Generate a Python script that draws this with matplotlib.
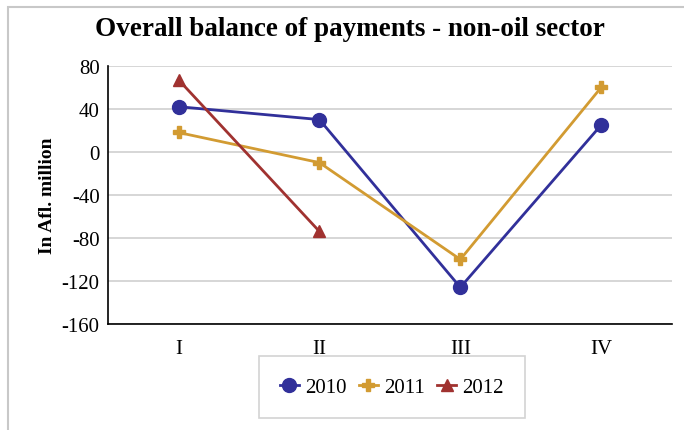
import numpy as np
import matplotlib.pyplot as plt
from matplotlib.patches import Rectangle

plt.rcParams['font.family'] = ['Liberation Serif', 'DejaVu Serif']
plt.rcParams['axes.unicode_minus'] = False

quarters = ["I", "II", "III", "IV"]
bop_2010 = [42, 30, -126, 25]
bop_2011 = [18, -10, -100, 60]
bop_2012 = [67, -74]

fig = plt.figure(figsize=(6.84, 4.31), dpi=100)
ax = fig.add_axes([0.158, 0.246, 0.824, 0.599])

# outer chart frame (cut off at right/bottom like the original)
fig.patches.append(Rectangle((8 / 684, -0.1), 1.2, 1.1 - 8 / 431,
                             transform=fig.transFigure, fill=False,
                             edgecolor="#c8c8c8", linewidth=1.5))

x = np.arange(len(quarters))
ax.plot(x, bop_2010, color="#31309a", lw=2, marker="o", ms=10, label="2010")
ax.plot(x, bop_2011, color="#d29b32", lw=2, marker="P", ms=9, label="2011")
ax.plot(x[:len(bop_2012)], bop_2012, color="#a03230", lw=2, marker="^", ms=9, label="2012")

ax.set_xlim(-0.5, 3.5)
ax.set_ylim(-160, 80)
ax.set_yticks(np.arange(-160, 81, 40))
ax.set_xticks(x)
ax.set_xticklabels(quarters)
ax.tick_params(axis="both", labelsize=15, length=0)
ax.tick_params(axis="x", pad=11)
ax.tick_params(axis="y", pad=6)
ax.yaxis.grid(True, color="#d0d0d0", lw=1.2)
ax.set_axisbelow(True)
for s in ["top", "right"]:
    ax.spines[s].set_visible(False)
ax.spines["left"].set_linewidth(1.2)
ax.spines["bottom"].set_linewidth(1.2)

ax.set_ylabel("In Afl. million", fontsize=14, fontweight="bold", labelpad=4)
fig.text(350 / 684, 1 - 30 / 431, "Overall balance of payments - non-oil sector",
         fontsize=19.5, fontweight="bold", ha="center", va="center")

leg = fig.legend(loc="center", bbox_to_anchor=(392 / 684, 1 - 388 / 431), ncol=3,
                 fontsize=15, frameon=True, fancybox=False, borderpad=1.0,
                 handlelength=0.9, handletextpad=0.3, columnspacing=0.6)
leg.get_frame().set_edgecolor("#c8c8c8")
leg.get_frame().set_linewidth(1.2)

fig.savefig("out.png", dpi=100)
